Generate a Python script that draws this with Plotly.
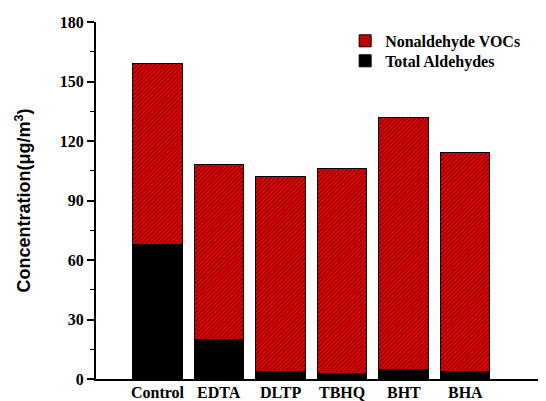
import plotly.graph_objects as go

categories = ["Control", "EDTA", "DLTP", "TBHQ", "BHT", "BHA"]
total_aldehydes = [68, 20, 4, 3, 5, 4]
total_voc = [159, 108, 102, 106, 132, 114]
nonaldehyde = [t - a for t, a in zip(total_voc, total_aldehydes)]

xpos = list(range(len(categories)))

fig = go.Figure()
fig.add_trace(go.Bar(
    x=xpos, y=total_aldehydes, name="Total Aldehydes",
    marker=dict(color="black", line=dict(color="black", width=1)),
    width=0.8, legend="legend2",
))
fig.add_trace(go.Bar(
    x=xpos, y=nonaldehyde, name="Nonaldehyde VOCs",
    marker=dict(color="#ff0000", line=dict(color="black", width=1),
                pattern=dict(shape="/", fgcolor="black", bgcolor="#ff0000",
                             size=3, solidity=0.5)),
    width=0.8, legend="legend",
))

serif = '"Liberation Serif", "Times New Roman", Times, serif'
sans = '"Liberation Sans", Arial, sans-serif'

for xp, cat in zip(xpos, categories):
    fig.add_annotation(x=xp, y=0, xref="x", yref="y", text=cat,
                       showarrow=False, yanchor="top", yshift=-3,
                       font=dict(family=serif, size=16, color="black", weight="bold"))

legend_common = dict(xanchor="left", yanchor="middle",
                     font=dict(family=serif, size=16, color="black", weight="bold"),
                     bgcolor="rgba(0,0,0,0)", itemwidth=30, tracegroupgap=0)

fig.update_layout(
    barmode="stack",
    width=546, height=401,
    margin=dict(l=88, r=0, t=14, b=30),
    plot_bgcolor="white", paper_bgcolor="white",
    showlegend=True,
    legend=dict(x=0.544, y=0.947, **legend_common),
    legend2=dict(x=0.544, y=0.891, **legend_common),
    bargap=0.2,
)
fig.update_xaxes(
    tickmode="array", tickvals=xpos, showticklabels=False,
    range=[-1, 6.447], showline=True, linecolor="black", linewidth=2,
    ticks="", showgrid=False, zeroline=False,
)
fig.update_yaxes(
    range=[0, 180], tickvals=[0, 30, 60, 90, 120, 150, 180],
    showline=True, linecolor="black", linewidth=2,
    ticks="outside", ticklen=7, tickwidth=2, tickcolor="black",
    minor=dict(ticks="outside", ticklen=4, tickwidth=1, dtick=15, tickcolor="black"),
    showgrid=False, zeroline=False,
    tickfont=dict(family=serif, size=16, color="black", weight="bold"),
    title=dict(text="Concentration(μg/m<sup>3</sup>)",
               font=dict(family=sans, size=18, color="black", weight="bold"),
               standoff=24),
)

fig.write_html("out.html")
